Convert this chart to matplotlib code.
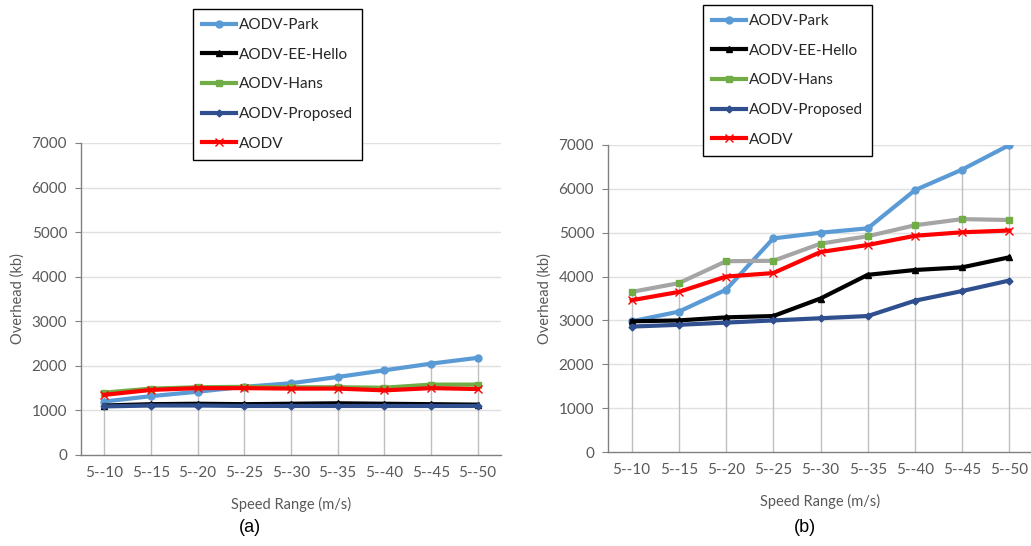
import matplotlib
matplotlib.use("Agg")
import matplotlib.pyplot as plt
import numpy as np

categories = ["5--10", "5--15", "5--20", "5--25", "5--30", "5--35", "5--40", "5--45", "5--50"]
series_names = ["AODV-Park", "AODV-EE-Hello", "AODV-Hans", "AODV-Proposed", "AODV"]

# (a)
a_park = [1200, 1320, 1420, 1530, 1610, 1750, 1900, 2050, 2180]
a_eehello = [1110, 1140, 1150, 1140, 1150, 1160, 1150, 1140, 1130]
a_hans = [1400, 1490, 1520, 1530, 1520, 1520, 1510, 1580, 1580]
a_proposed = [1090, 1110, 1110, 1100, 1100, 1100, 1100, 1100, 1100]
a_aodv = [1350, 1460, 1500, 1500, 1490, 1490, 1450, 1500, 1480]

# (b)
b_park = [2980, 3200, 3700, 4870, 5000, 5100, 5970, 6440, 7000]
b_eehello = [2980, 3000, 3070, 3100, 3500, 4040, 4150, 4210, 4440]
b_hans = [3650, 3850, 4350, 4360, 4750, 4920, 5170, 5310, 5290]
b_proposed = [2860, 2900, 2950, 3000, 3050, 3100, 3450, 3670, 3910]
b_aodv = [3460, 3650, 4000, 4080, 4560, 4720, 4930, 5010, 5050]

yticks = [0, 1000, 2000, 3000, 4000, 5000, 6000, 7000]

plt.rcParams['font.family'] = ['Lato', 'DejaVu Sans']
TXT = '#595959'

fig = plt.figure(figsize=(10.31, 5.46), dpi=100)

styles = [
    dict(color='#5B9BD5', marker='o', mfc='#5B9BD5', mec='#5B9BD5', ms=5),
    dict(color='#000000', marker='^', mfc='#000000', mec='#000000', ms=5),
    dict(color='#70AD47', marker='s', mfc='#70AD47', mec='#70AD47', ms=5),
    dict(color='#2F4F8F', marker='D', mfc='#2F4F8F', mec='#2F4F8F', ms=3.5),
    dict(color='#FF0000', marker='x', mfc='#FF0000', mec='#FF0000', ms=6, mew=1),
]


def draw(ax, data, hans_line_color):
    x = np.arange(len(categories))
    mx = np.max(np.array(data), axis=0)
    ax.vlines(x, 0, mx, color='#BFBFBF', lw=1, zorder=1)
    for yv in yticks[1:]:
        ax.axhline(yv, color='#E0E0E0', lw=1, zorder=0)
    handles = []
    for i, (vals, st) in enumerate(zip(data, styles)):
        st = dict(st)
        if i == 2 and hans_line_color is not None:
            st['color'] = hans_line_color
        h, = ax.plot(x, vals, lw=3, zorder=3, label=series_names[i], **st)
        handles.append(h)
    ax.set_xlim(-0.5, len(categories) - 0.5)
    ax.set_ylim(0, 7000)
    ax.set_yticks(yticks)
    ax.set_xticks(x)
    ax.set_xticklabels(categories)
    ax.tick_params(axis='x', length=0, labelsize=11, labelcolor=TXT, pad=8)
    ax.tick_params(axis='y', length=4, color='#808080', labelsize=11, labelcolor=TXT, pad=6)
    for s in ['top', 'right']:
        ax.spines[s].set_visible(False)
    for s in ['left', 'bottom']:
        ax.spines[s].set_color('#808080')
        ax.spines[s].set_linewidth(1)
    ax.set_ylabel('Overhead (kb)', color=TXT, fontsize=10.5, labelpad=5)
    ax.set_xlabel('Speed Range (m/s)', color=TXT, fontsize=10.5, labelpad=12)
    return handles


ax1 = fig.add_axes([81/1031, 1-455/546, 420/1031, 312/546])
h1 = draw(ax1, [a_park, a_eehello, a_hans, a_proposed, a_aodv], None)
ax2 = fig.add_axes([608/1031, 1-452/546, 425/1031, 307/546])
h2 = draw(ax2, [b_park, b_eehello, b_hans, b_proposed, b_aodv], '#A5A5A5')

for hs, xpos, ypos in [(h1, 193, 9), (h2, 703, 5)]:
    leg = fig.legend(handles=[plt.Line2D([], [], **dict(styles[i], lw=3)) for i in range(5)],
                     labels=series_names, loc='upper left',
                     bbox_to_anchor=(xpos/1031, 1-ypos/546), fontsize=11,
                     frameon=True, fancybox=False, framealpha=1, edgecolor='#000000',
                     handlelength=2.2, handletextpad=0.2, labelspacing=1.02,
                     borderpad=0.6, borderaxespad=0)
    leg.get_frame().set_linewidth(1)
    for t in leg.get_texts():
        t.set_color('#262626')

fig.text(250/1031, 1-527/546, '(a)', ha='center', va='center', fontsize=13, family='Liberation Sans')
fig.text(805/1031, 1-527/546, '(b)', ha='center', va='center', fontsize=13, family='Liberation Sans')

fig.savefig('out.png', dpi=100)
